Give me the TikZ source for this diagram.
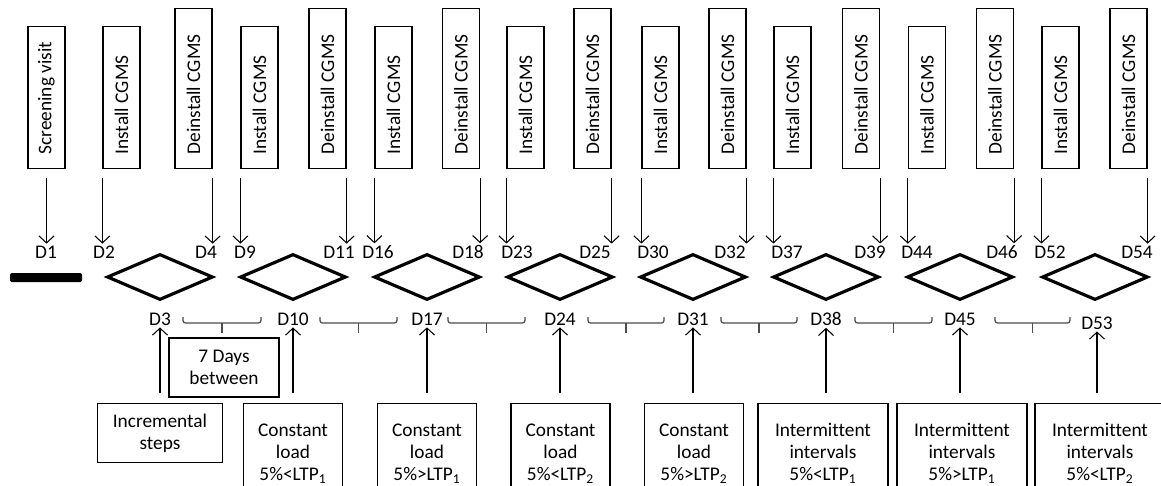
\documentclass[tikz,border=0pt]{standalone}
\usepackage{fontspec}
\setmainfont[Ligatures=NoCommon]{Carlito}
\usetikzlibrary{shapes.geometric,arrows.meta,calc}
\newcommand{\uptext}[2]{\rotatebox{90}{\makebox[#1][l]{#2}}}
\tikzset{
  visit/.style={draw, line width=0.7pt, inner xsep=0pt, inner ysep=0.28cm, minimum width=0.74cm, anchor=south},
  day/.style={inner sep=1pt},
  cycle/.style={diamond, draw, line width=1.8pt, minimum width=2.12cm, minimum height=0.92cm, inner sep=0pt},
  load/.style={draw, line width=0.7pt, align=center, anchor=north, inner ysep=0.16cm, minimum width=1.98cm},
  gap/.style={line width=0.7pt, black!70, rounded corners=0.05cm},
  >={Straight Barb[length=0.14cm, width=0.3cm]}
}
\begin{document}
\begin{tikzpicture}[x=0.02cm, y=-0.02cm, font=\fontsize{11}{12.5}\selectfont]
            \useasboundingbox (0,0) rectangle (1161,485);
            \clip (0,0) rectangle (1161,485);
            % visits on top
            \node[visit] (scr) at (46.5,169) {\uptext{2.28cm}{Screening visit}};
            \node[day] (d1) at (46,252) {D1};
            \draw[->, line width=0.6pt] ($(scr.south)+(0,9)$) -- (scr.south |- d1.north);
            \foreach \n/\x/\d in {2/121.5/104, 9/259.5/245, 16/393.5/378, 23/525.5/517, 30/660.5/653, 37/792.5/787, 44/927/917, 52/1060.5/1050}{
              \node[visit] (in\n) at (\x,169) {\uptext{2.28cm}{Install CGMS}};
              \node[day] (d\n) at (\d,252) {D\n};
              \draw[->, line width=0.6pt] ($(in\n.south west)+(0,9)$) -- (in\n.south west |- d\n.north);
            }
            \foreach \n/\x/\d in {4/193.5/206, 11/327.5/339, 18/461/468, 25/592.5/595, 32/727.5/730, 39/861/870, 46/995/1002, 54/1128.5/1137}{
              \node[visit] (out\n) at (\x,169) {\uptext{2.64cm}{Deinstall CGMS}};
              \node[day] (d\n) at (\d,252) {D\n};
              \draw[->, line width=0.6pt] ($(out\n.south east)+(0,9)$) -- (out\n.south east |- d\n.north);
            }
            % timeline
            \fill[rounded corners=0.04cm] (10,273) rectangle (82,282);
            \foreach \n/\x in {3/160, 10/293, 17/427, 24/560, 31/693, 38/826, 45/960}{
              \node[cycle] (cy\n) at (\x,277) {};
              \node[day] (d\n) at (\x,319) {D\n};
            }
            \node[cycle] (cy53) at (1095,277) {};
            \node[day] (d53) at (1097,323) {D53};
            \foreach \a/\b in {183/261, 320/397, 448/525, 588/664, 721/797, 855/932, 995/1070}{
              \draw[gap] (\a,317) |- (\b,323) -- (\b,317);
              \draw[gap] ({(\a+\b)/2},323) -- ++(0,10);
            }
            \node[draw, line width=0.7pt, align=center, minimum width=2.2cm, minimum height=1.18cm] (week) at (224,367.5) {7 Days\\between};
            % loads below
            \node[load, minimum width=2.5cm, minimum height=1.18cm] (ld3) at (160,403) {Incremental\\steps};
            \node[load, minimum height=2cm] (ld10) at (293,403) {Constant\\load\\5\%<LTP\textsubscript{1}};
            \node[load, minimum height=2cm] (ld17) at (427,403) {Constant\\load\\5\%>LTP\textsubscript{1}};
            \node[load, minimum height=2cm] (ld24) at (560.5,403) {Constant\\load\\5\%<LTP\textsubscript{2}};
            \node[load, minimum height=2cm] (ld31) at (694,403) {Constant\\load\\5\%>LTP\textsubscript{2}};
            \node[load, minimum width=2.6cm, minimum height=2cm] (ld38) at (823,403) {Intermittent\\intervals\\5\%<LTP\textsubscript{1}};
            \node[load, minimum width=2.6cm, minimum height=2cm] (ld45) at (962,403) {Intermittent\\intervals\\5\%>LTP\textsubscript{1}};
            \node[load, minimum width=2.6cm, minimum height=2cm] (ld53) at (1100,403) {Intermittent\\intervals\\5\%<LTP\textsubscript{2}};
            \foreach \n in {3,10,17,24,31,38,45,53}
              \draw[->, line width=0.6pt] ($(d\n.south |- ld\n.north)+(0,-10)$) -- (d\n.south);
        \end{tikzpicture}
\end{document}
